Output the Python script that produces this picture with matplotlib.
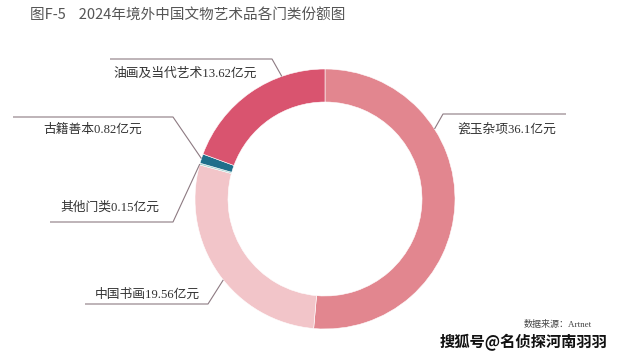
import numpy as np
import matplotlib
matplotlib.use("Agg")
import matplotlib.pyplot as plt

plt.rcParams["font.family"] = ["Noto Sans CJK SC", "DejaVu Sans"]

# share of overseas Chinese art sales by category, 2024 (100 million yuan)
categories = ["瓷玉杂项", "中国书画", "其他门类", "古籍善本", "油画及当代艺术"]
values = [36.1, 19.56, 0.15, 0.82, 13.62]
value_labels = ["36.1", "19.56", "0.15", "0.82", "13.62"]
colors = ["#e2868f", "#f2c5c9", "#9fd0cc", "#1f6f8b", "#d9546f"]

title = "图F-5    2024年境外中国文物艺术品各门类份额图"
source = "数据来源：Artnet"
watermark = "搜狐号@名侦探河南羽羽"

W, H = 624, 357
CX, CY, R, RING = 325, 199, 130, 33

# label layout in image pixels: anchor angle (None -> wedge middle), elbow, line end, text pos
label_layout = {
    "瓷玉杂项": (32.6, (443, 114), (566, 114), (457, 130)),
    "中国书画": (218.5, (208, 304), (85, 304), (95, 295)),
    "其他门类": (None, (173, 222), (50, 222), (60, 208)),
    "古籍善本": (None, (173, 117), (13, 117), (43, 130)),
    "油画及当代艺术": (109.4, (272, 59), (110, 59), (113, 74)),
}

fig = plt.figure(figsize=(W / 100, H / 100), dpi=100)
ax = fig.add_axes([0, 0, 1, 1])

wedges, _ = ax.pie(
    values,
    colors=colors,
    startangle=90,
    counterclock=False,
    center=(CX, H - CY),
    radius=R,
    frame=True,
    wedgeprops=dict(width=RING, edgecolor="white", linewidth=0.4),
)
ax.set_xlim(0, W)
ax.set_ylim(0, H)
ax.set_aspect("equal")
ax.axis("off")

label_font = ["Liberation Serif", "Noto Sans CJK SC"]
for wedge, name, val in zip(wedges, categories, value_labels):
    ang, elbow, end, tpos = label_layout[name]
    if ang is None:
        ang = (wedge.theta1 + wedge.theta2) / 2
    a = np.deg2rad(ang)
    ax_pt = (CX + R * np.cos(a), H - CY + R * np.sin(a))
    xs = [ax_pt[0], elbow[0], end[0]]
    ys = [ax_pt[1], H - elbow[1], H - end[1]]
    ax.plot(xs, ys, color="#8d7a82", lw=0.8, solid_capstyle="butt")
    ax.text(tpos[0], H - tpos[1], f"{name}{val}亿元", family=label_font,
            fontsize=9.2, color="#333333", ha="left", va="center")

ax.text(30, H - 16, title, fontsize=10.5, color="#555555", ha="left", va="center")
ax.text(592, H - 325, source, family=label_font, fontsize=6.5,
        color="#444444", ha="right", va="center")
ax.text(440, H - 342, watermark, fontsize=11, fontweight="bold",
        color="#111111", ha="left", va="center")

fig.savefig("out.png", dpi=100)
